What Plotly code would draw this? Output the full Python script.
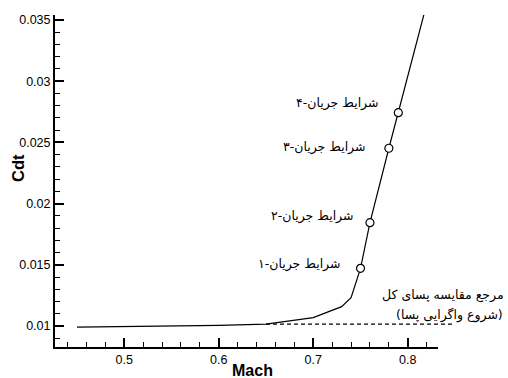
import plotly.graph_objects as go

# Total drag coefficient vs. Mach number
mach = [0.45, 0.50, 0.60, 0.65, 0.70, 0.73, 0.74, 0.75, 0.76, 0.78, 0.79, 0.80, 0.82]
cdt = [0.00990, 0.00993, 0.01005, 0.01015, 0.01068, 0.01158, 0.01231,
       0.01471, 0.01844, 0.02452, 0.02743, 0.03040, 0.03630]

# Flow conditions marked on the curve
cond_mach = [0.75, 0.76, 0.78, 0.79]
cond_cdt = [0.01471, 0.01844, 0.02452, 0.02743]
cond_labels = ["شرایط جریان-۱", "شرایط جریان-۲", "شرایط جریان-۳", "شرایط جریان-۴"]
cond_shift = [(-19, 4), (-15, 7), (-22, 1), (-18, 10)]

# Reference level (drag divergence onset)
ref_mach = [0.65, 0.85]
ref_cdt = [0.01015, 0.01015]
ref_lines = ["مرجع مقایسه پسای کل", "\u200f(شروع واگرایی پسا)\u200f"]
ref_text_mach = [0.8374, 0.8438]
ref_text_cdt = [0.01253, 0.01090]

x_range = [0.4267, 0.832]
y_range = [0.00828, 0.03541]

W, H = 508, 378
ML, MR, MT, MB = 55, 4, 15, 31
plot_w = W - ML - MR
px_per_unit = 383 / (x_range[1] - x_range[0])
main_frac = 383 / plot_w
x2_range = [x_range[0], x_range[0] + plot_w / px_per_unit]

fig = go.Figure()

fig.add_trace(go.Scatter(
    x=ref_mach, y=ref_cdt, mode="lines", xaxis="x2", yaxis="y",
    line=dict(color="black", width=1.2, dash="4px,3px"), showlegend=False,
))
fig.add_trace(go.Scatter(
    x=mach, y=cdt, mode="lines",
    line=dict(color="black", width=1.2), showlegend=False,
))
fig.add_trace(go.Scatter(
    x=cond_mach, y=cond_cdt, mode="markers",
    marker=dict(symbol="circle", size=8, color="white",
                line=dict(color="black", width=1.2)),
    showlegend=False, cliponaxis=False,
))

for xm, yc, txt, (dx, dy) in zip(cond_mach, cond_cdt, cond_labels, cond_shift):
    fig.add_annotation(
        x=xm, y=yc, xref="x", yref="y", text=txt, showarrow=False,
        xanchor="right", yanchor="middle", xshift=dx, yshift=dy,
        font=dict(family="DejaVu Sans", size=12.5, color="black"),
    )

for xm, yc, txt in zip(ref_text_mach, ref_text_cdt, ref_lines):
    fig.add_annotation(
        x=xm, y=yc, xref="x2", yref="y", text=txt, showarrow=False,
        xanchor="center", yanchor="middle",
        font=dict(family="DejaVu Sans", size=12.5, color="black"),
    )

fig.add_annotation(
    x=(252 - ML) / plot_w, y=0, xref="paper", yref="paper", yshift=-23,
    text="<b>Mach</b>", showarrow=False, xanchor="center", yanchor="middle",
    font=dict(family="Liberation Sans", size=16, color="black"),
)
fig.add_annotation(
    x=0, y=(H - MB - 168) / (H - MT - MB), xref="paper", yref="paper", xshift=-37,
    text="<b>Cdt</b>", showarrow=False, textangle=-90,
    xanchor="center", yanchor="middle",
    font=dict(family="Liberation Sans", size=16.5, color="black"),
)

axis_common = dict(
    showgrid=False, zeroline=False, showline=True, linecolor="black", linewidth=2,
    ticks="inside", tickcolor="black", tickwidth=2, ticklen=9,
    tickfont=dict(family="Liberation Sans", size=12.5, color="black"),
)

fig.update_layout(
    width=W, height=H,
    margin=dict(l=ML, r=MR, t=MT, b=MB),
    paper_bgcolor="white", plot_bgcolor="rgba(0,0,0,0)",
    xaxis=dict(
        range=x_range, domain=[0, main_frac], tick0=0.5, dtick=0.1,
        minor=dict(ticks="inside", dtick=0.02, tick0=0.5, ticklen=5,
                   tickwidth=1, tickcolor="black"),
        anchor="y", **axis_common,
    ),
    xaxis2=dict(range=x2_range, domain=[0, 1], anchor="y", visible=False),
    yaxis=dict(
        range=y_range, tick0=0.01, dtick=0.005, anchor="x",
        minor=dict(ticks="inside", dtick=0.001, tick0=0.01, ticklen=5,
                   tickwidth=1, tickcolor="black"),
        **axis_common,
    ),
)

fig.write_html("out.html")
